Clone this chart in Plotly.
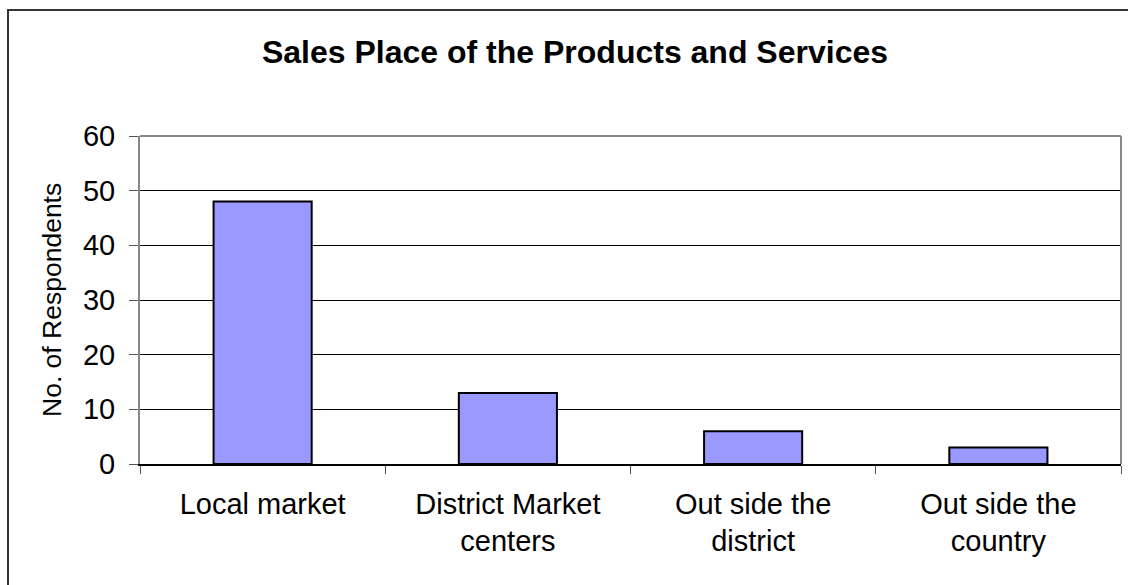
import plotly.graph_objects as go

# Survey results: where respondents sell their products and services
categories = ["Local market", "District Market<br>centers", "Out side the<br>district", "Out side the<br>country"]
respondents = [48, 13, 6, 3]
y_ticks = [0, 10, 20, 30, 40, 50, 60]

W, H = 1128, 585
L, R, T, B = 140, 7, 136, 121
plot_w = W - L - R
plot_h = H - T - B

fig = go.Figure(
    go.Bar(
        x=categories,
        y=respondents,
        marker=dict(color="#9999FF", line=dict(color="#000000", width=2)),
        hoverinfo="x+y",
    )
)

fig.update_layout(
    width=W,
    height=H,
    margin=dict(l=L, r=R, t=T, b=B),
    paper_bgcolor="white",
    plot_bgcolor="white",
    bargap=0.6,
    showlegend=False,
    font=dict(family="Liberation Sans, Arial, sans-serif", color="#000000"),
    title=dict(
        text="<b>Sales Place of the Products and Services</b>",
        x=575 / W,
        xanchor="center",
        y=1 - 52 / H,
        yanchor="middle",
        font=dict(size=32, color="#000000"),
    ),
)

fig.update_xaxes(
    type="category",
    showgrid=False,
    showline=True,
    linecolor="#000000",
    linewidth=1.5,
    ticks="outside",
    tickson="boundaries",
    ticklen=8,
    tickcolor="#555555",
    tickwidth=1,
    ticklabelstandoff=13,
    tickfont=dict(size=29, color="#000000"),
)

fig.update_yaxes(
    range=[0, 60],
    tickvals=y_ticks,
    showgrid=True,
    gridcolor="#000000",
    gridwidth=1,
    zeroline=False,
    showline=True,
    linecolor="#888888",
    linewidth=2,
    ticks="outside",
    ticklen=9,
    tickcolor="#555555",
    ticklabelstandoff=8,
    tickfont=dict(size=29, color="#000000"),
)

# Plot area frame (gray) on the top and right
fig.add_shape(type="line", xref="paper", yref="paper", x0=0, x1=1, y0=1, y1=1,
              line=dict(color="#888888", width=2), layer="above")
fig.add_shape(type="line", xref="paper", yref="paper", x0=1, x1=1, y0=0, y1=1,
              line=dict(color="#888888", width=2), layer="above")

# Chart frame running past the right and bottom edges
fig.add_shape(type="rect", xref="paper", yref="paper",
              x0=(8 - L) / plot_w, x1=(W + 10 - L) / plot_w,
              y0=-(H + 10 - (T + plot_h)) / plot_h, y1=(T + plot_h - 10) / plot_h,
              line=dict(color="#333333", width=2), layer="above")

# Vertical axis title
fig.add_annotation(
    text="No. of Respondents",
    xref="paper", yref="paper",
    x=(52 - L) / plot_w, y=0.5,
    xanchor="center", yanchor="middle",
    textangle=-90,
    showarrow=False,
    font=dict(size=26.5, color="#000000"),
)

fig.write_html("out.html")
